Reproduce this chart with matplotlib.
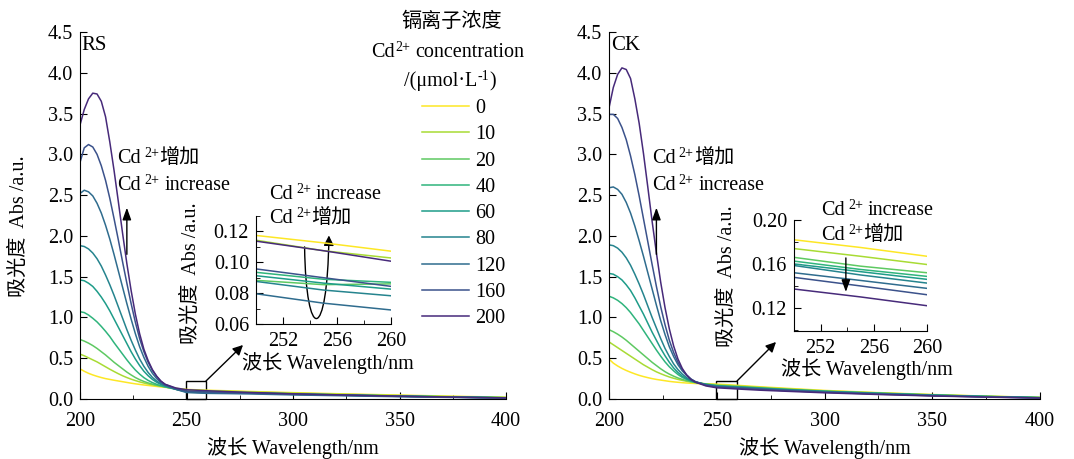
import numpy as np
import matplotlib
matplotlib.use("Agg")
import matplotlib.pyplot as plt
from matplotlib.patches import Rectangle, FancyArrowPatch
from matplotlib.path import Path
from matplotlib.ticker import MultipleLocator

plt.rcParams["font.family"] = ["Liberation Serif", "DejaVu Serif", "Noto Sans CJK SC"]
plt.rcParams["font.size"] = 14.5

# wavelength grid (nm)
wl = [200, 202, 204, 206, 208, 210, 212, 214, 216, 218, 220, 222, 224, 226, 228, 230, 232,
      234, 236, 238, 240, 245, 250, 255, 260, 270, 280, 300, 325, 350, 375, 400]

conc = ["0", "10", "20", "40", "60", "80", "120", "160", "200"]

# RS absorbance, one row per Cd2+ concentration
rs_abs = [
    [0.37, 0.34, 0.315, 0.295, 0.278, 0.263, 0.25, 0.24, 0.23, 0.221, 0.212, 0.203, 0.194, 0.186,
     0.179, 0.172, 0.166, 0.16, 0.154, 0.148, 0.143, 0.129, 0.1174, 0.1126, 0.1072, 0.10, 0.092,
     0.078, 0.062, 0.048, 0.034, 0.022],
    [0.55, 0.53, 0.505, 0.48, 0.455, 0.425, 0.395, 0.365, 0.337, 0.31, 0.285, 0.263, 0.243, 0.226,
     0.21, 0.196, 0.184, 0.174, 0.165, 0.157, 0.149, 0.13, 0.1143, 0.1075, 0.1028, 0.095, 0.087,
     0.072, 0.057, 0.043, 0.03, 0.019],
    [0.73, 0.71, 0.685, 0.655, 0.62, 0.58, 0.54, 0.495, 0.45, 0.41, 0.37, 0.33, 0.295, 0.263,
     0.237, 0.215, 0.197, 0.182, 0.169, 0.158, 0.148, 0.12, 0.0883, 0.0855, 0.086, 0.08, 0.075,
     0.062, 0.048, 0.036, 0.025, 0.015],
    [1.07, 1.06, 1.03, 0.99, 0.945, 0.89, 0.83, 0.765, 0.69, 0.62, 0.55, 0.48, 0.415, 0.355,
     0.305, 0.262, 0.228, 0.201, 0.18, 0.162, 0.148, 0.12, 0.0935, 0.089, 0.087, 0.081, 0.076,
     0.063, 0.049, 0.037, 0.026, 0.016],
    [1.46, 1.45, 1.42, 1.38, 1.32, 1.25, 1.17, 1.08, 0.98, 0.88, 0.78, 0.68, 0.58, 0.49,
     0.41, 0.34, 0.285, 0.24, 0.205, 0.178, 0.158, 0.122, 0.0913, 0.0865, 0.0826, 0.077, 0.073,
     0.06, 0.047, 0.035, 0.025, 0.015],
    [1.88, 1.87, 1.84, 1.79, 1.72, 1.63, 1.52, 1.40, 1.27, 1.13, 0.99, 0.85, 0.72, 0.60,
     0.49, 0.40, 0.325, 0.265, 0.22, 0.185, 0.162, 0.12, 0.0876, 0.082, 0.0783, 0.074, 0.07,
     0.057, 0.045, 0.033, 0.023, 0.014],
    [2.52, 2.56, 2.54, 2.49, 2.40, 2.28, 2.13, 1.96, 1.77, 1.57, 1.37, 1.17, 0.98, 0.80,
     0.64, 0.51, 0.40, 0.315, 0.25, 0.20, 0.168, 0.118, 0.0796, 0.0735, 0.0691, 0.066, 0.062,
     0.05, 0.039, 0.028, 0.019, 0.011],
    [2.90, 3.08, 3.12, 3.09, 3.00, 2.86, 2.68, 2.46, 2.21, 1.95, 1.68, 1.42, 1.17, 0.94,
     0.74, 0.58, 0.45, 0.35, 0.275, 0.215, 0.178, 0.128, 0.0957, 0.09, 0.0844, 0.078, 0.072,
     0.058, 0.045, 0.032, 0.022, 0.013],
    [3.36, 3.55, 3.68, 3.75, 3.74, 3.65, 3.46, 3.15, 2.80, 2.42, 2.03, 1.66, 1.33, 1.04,
     0.80, 0.61, 0.47, 0.36, 0.28, 0.22, 0.18, 0.135, 0.1137, 0.1075, 0.1007, 0.09, 0.08,
     0.064, 0.049, 0.035, 0.023, 0.013],
]

# CK absorbance
ck_abs = [
    [0.49, 0.44, 0.405, 0.375, 0.35, 0.328, 0.308, 0.29, 0.275, 0.262, 0.25, 0.24, 0.232, 0.224,
     0.216, 0.21, 0.205, 0.2, 0.196, 0.193, 0.19, 0.186, 0.182, 0.175, 0.167, 0.15, 0.135,
     0.105, 0.078, 0.055, 0.035, 0.02],
    [0.70, 0.665, 0.63, 0.595, 0.56, 0.525, 0.49, 0.455, 0.42, 0.39, 0.36, 0.333, 0.31, 0.289,
     0.27, 0.254, 0.24, 0.228, 0.217, 0.208, 0.2, 0.186, 0.174, 0.167, 0.1595, 0.143, 0.128,
     0.10, 0.075, 0.052, 0.034, 0.019],
    [0.85, 0.825, 0.795, 0.76, 0.72, 0.675, 0.63, 0.585, 0.54, 0.495, 0.45, 0.41, 0.37, 0.335,
     0.305, 0.28, 0.258, 0.24, 0.225, 0.213, 0.203, 0.183, 0.166, 0.158, 0.152, 0.137, 0.122,
     0.096, 0.072, 0.05, 0.032, 0.018],
    [1.26, 1.24, 1.21, 1.17, 1.12, 1.06, 0.99, 0.92, 0.84, 0.76, 0.68, 0.60, 0.525, 0.455,
     0.395, 0.345, 0.30, 0.265, 0.24, 0.22, 0.205, 0.18, 0.1626, 0.155, 0.1487, 0.134, 0.12,
     0.094, 0.07, 0.048, 0.031, 0.017],
    [1.54, 1.53, 1.50, 1.46, 1.40, 1.33, 1.24, 1.14, 1.04, 0.93, 0.82, 0.72, 0.62, 0.53,
     0.45, 0.38, 0.325, 0.28, 0.248, 0.225, 0.207, 0.178, 0.16, 0.153, 0.146, 0.131, 0.117,
     0.092, 0.068, 0.047, 0.03, 0.016],
    [1.89, 1.88, 1.85, 1.80, 1.73, 1.64, 1.53, 1.41, 1.28, 1.14, 1.00, 0.87, 0.74, 0.62,
     0.52, 0.43, 0.36, 0.305, 0.262, 0.23, 0.21, 0.177, 0.1586, 0.15, 0.1426, 0.128, 0.114,
     0.09, 0.066, 0.045, 0.029, 0.015],
    [2.59, 2.60, 2.57, 2.51, 2.41, 2.28, 2.12, 1.94, 1.75, 1.55, 1.35, 1.15, 0.96, 0.79,
     0.64, 0.52, 0.42, 0.345, 0.29, 0.245, 0.215, 0.172, 0.152, 0.145, 0.1378, 0.123, 0.11,
     0.086, 0.063, 0.043, 0.027, 0.014],
    [3.49, 3.49, 3.44, 3.33, 3.18, 2.98, 2.75, 2.49, 2.21, 1.93, 1.65, 1.38, 1.13, 0.91,
     0.72, 0.57, 0.45, 0.36, 0.295, 0.245, 0.212, 0.168, 0.1478, 0.14, 0.132, 0.118, 0.105,
     0.082, 0.06, 0.04, 0.025, 0.013],
    [3.57, 3.82, 3.98, 4.06, 4.04, 3.93, 3.68, 3.38, 3.01, 2.60, 2.18, 1.79, 1.43, 1.12,
     0.86, 0.65, 0.49, 0.375, 0.295, 0.24, 0.207, 0.16, 0.1372, 0.13, 0.122, 0.108, 0.097,
     0.076, 0.055, 0.037, 0.023, 0.012],
]

colors = plt.cm.viridis([1.0, 0.87, 0.75, 0.65, 0.55, 0.45, 0.35, 0.25, 0.12])

W, H = 1074, 459
fig = plt.figure(figsize=(W / 100, H / 100), dpi=100)


def px_rect(l, t, r, b):
    return [l / W, 1 - b / H, (r - l) / W, (b - t) / H]


def fig_xy(x, y):
    return (x / W, 1 - y / H)


def style_axes(ax):
    ax.spines["top"].set_visible(False)
    ax.spines["right"].set_visible(False)
    ax.tick_params(which="both", direction="in")
    ax.tick_params(which="major", length=5)
    ax.tick_params(which="minor", length=3)


def sup_label(ax, x, y, head, sup, tail, transform, sup_gap=2.5, tail_gap=3.5):
    # head text, a raised smaller superscript, then the rest on the same baseline
    t0 = ax.text(x, y, head, transform=transform, ha="left", va="baseline")
    s = ax.annotate(sup, xy=(1, 0), xycoords=t0, xytext=(sup_gap, 6), textcoords="offset points",
                    fontsize=10, ha="left", va="bottom")
    ax.annotate(tail, xy=(1, 0), xycoords=(s, t0), xytext=(tail_gap, 0), textcoords="offset points",
                ha="left", va="bottom")


def cd_label(ax, x, y, tail, transform):
    sup_label(ax, x, y, "Cd", "2+", tail, transform, tail_gap=0 if tail == "增加" else 3.5)


ylab = "吸光度  Abs /a.u."
xlab = "波长 Wavelength/nm"

panels = [
    ("RS", rs_abs, px_rect(80, 32, 506, 399), px_rect(256, 216, 391, 324), (0.06, 0.13), 0.02, 0.01,
     217.5, (269, 199, 223)),
    ("CK", ck_abs, px_rect(609, 32, 1040, 399), px_rect(794, 220, 927, 331), (0.099, 0.20), 0.04, 0.02,
     219.8, (821, 215, 240)),
]

handles = []
for k, (name, data, rect, irect, iylim, imaj, imin, tx, itxt) in enumerate(panels):
    ax = fig.add_axes(rect)
    for i, row in enumerate(data):
        ln, = ax.plot(wl, row, color=colors[i], lw=1.1)
        if k == 0:
            handles.append(ln)
    ax.set_xlim(200, 400)
    ax.set_ylim(0, 4.5)
    ax.xaxis.set_major_locator(MultipleLocator(50))
    ax.xaxis.set_minor_locator(MultipleLocator(25))
    ax.yaxis.set_major_locator(MultipleLocator(0.5))
    style_axes(ax)
    ax.tick_params(axis="x", pad=9)
    ax.tick_params(axis="y", pad=5)
    ax.set_xlabel(xlab)
    ax.xaxis.set_label_coords(0.5, -0.104)
    if k == 0:
        ax.set_ylabel(ylab)
        ax.yaxis.set_label_coords(-0.12, 0.47)
    ax.text(0.004, 0.963, name, transform=ax.transAxes, va="center", ha="left", fontsize=15)

    # zoom box
    ax.add_patch(Rectangle((249.6, 0), 9.7, 0.22, fill=False, ec="black", lw=1.0, clip_on=False))
    # main arrow and its labels
    ax.annotate("", xy=(222, 2.38), xytext=(222, 1.74),
                arrowprops=dict(arrowstyle="-|>,head_length=0.5,head_width=0.18", color="black", lw=1.0))
    cd_label(ax, tx, 2.89, "增加", ax.transData)
    cd_label(ax, tx, 2.56, "increase", ax.transData)

    # inset
    ia = fig.add_axes(irect)
    for i, row in enumerate(data):
        ia.plot(wl, row, color=colors[i], lw=1.1)
    ia.set_xlim(250, 260)
    ia.set_ylim(*iylim)
    ia.set_xticks([252, 256, 260])
    ia.xaxis.set_minor_locator(MultipleLocator(2))
    ia.yaxis.set_major_locator(MultipleLocator(imaj))
    ia.yaxis.set_minor_locator(MultipleLocator(imin))
    style_axes(ia)
    ia.tick_params(axis="x", pad=6)
    ia.tick_params(axis="y", pad=5)
    ia.set_xlabel(xlab)
    ia.set_ylabel(ylab)

    # inset labels, placed in figure pixels
    ix, iy1, iy2 = itxt
    cd_label(ia, *fig_xy(ix, iy1), "increase", fig.transFigure)
    cd_label(ia, *fig_xy(ix, iy2), "增加", fig.transFigure)

    if k == 0:
        ia.xaxis.set_label_coords(0.53, -0.26)
        ia.yaxis.set_label_coords(-0.41, 0.47)
        # U-shaped arrow
        verts = [(253.6, 0.110), (253.7, 0.047), (255.3, 0.047), (255.4, 0.1174)]
        p = FancyArrowPatch(path=Path(verts, [Path.MOVETO, Path.CURVE4, Path.CURVE4, Path.CURVE4]),
                            arrowstyle="-|>,head_length=6,head_width=3", color="black", lw=1.0,
                            clip_on=False)
        ia.add_patch(p)
    else:
        ia.xaxis.set_label_coords(0.55, -0.245)
        ia.yaxis.set_label_coords(-0.43, 0.49)
        ia.annotate("", xy=(253.9, 0.132), xytext=(253.9, 0.168),
                    arrowprops=dict(arrowstyle="-|>,head_length=0.5,head_width=0.18", color="black", lw=1.0))

# connector arrows from zoom boxes to insets
for (x0, y0, x1, y1) in [(206, 381, 243, 345), (737, 381, 776, 342)]:
    fig.add_artist(FancyArrowPatch(fig_xy(x0, y0), fig_xy(x1, y1), transform=fig.transFigure,
                                   arrowstyle="-|>,head_length=6,head_width=3", color="black", lw=1.0,
                                   shrinkA=0, shrinkB=0))

# legend title and entries
lax = fig.axes[-1]
fig.text(*fig_xy(452, 22), "镉离子浓度", ha="center", va="center")
sup_label(lax, *fig_xy(371, 57), "Cd", "2+", "concentration", fig.transFigure, sup_gap=0.5)
sup_label(lax, *fig_xy(404, 86), "/(μmol·L", "-1", ")", fig.transFigure, sup_gap=0.3, tail_gap=0)
fig.legend(handles, conc, loc="upper left", bbox_to_anchor=fig_xy(422, 99), frameon=False,
           borderpad=0, borderaxespad=0, handlelength=2.35, handletextpad=0.3, labelspacing=0.355)

fig.savefig("out.png", dpi=100)
